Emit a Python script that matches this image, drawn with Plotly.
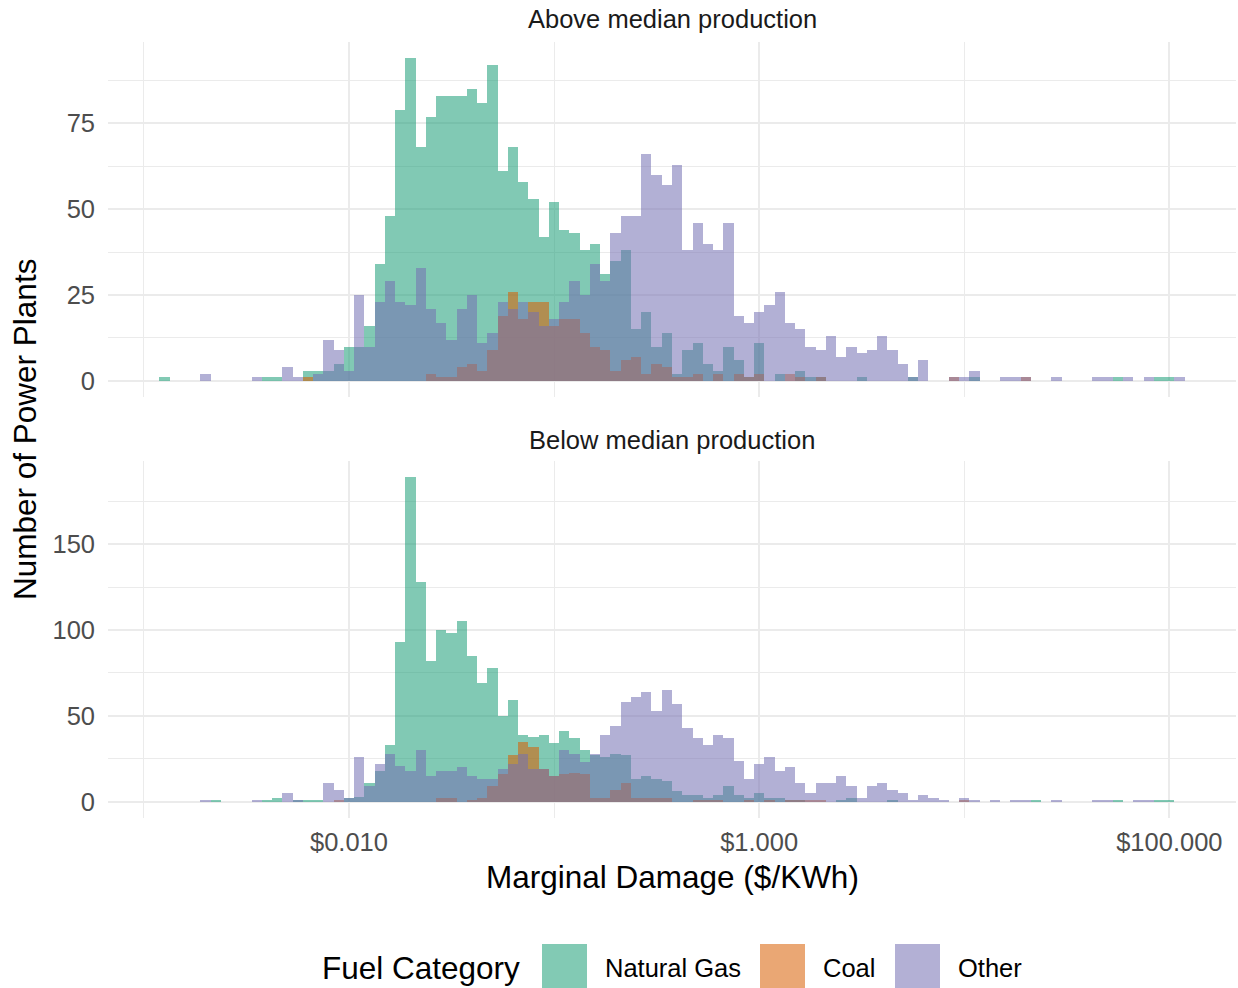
import numpy as np
import plotly.graph_objects as go

# ---------------- data (counts per histogram bin) ----------------
# bins are 0.05 wide in log10($/kWh); first bin centred at log10 = -2.90
BIN_WIDTH_LOG10 = 0.05
FIRST_BIN_CENTER_LOG10 = -2.90

# Above median production
ng_above = [1, 0, 0, 0, 0, 0, 0, 0, 0, 0,
            1, 1, 0, 0, 3, 3, 3, 5, 10, 10,
            16, 34, 48, 79, 94, 68, 77, 83, 83, 83,
            85, 81, 92, 61, 68, 58, 53, 42, 52, 44,
            43, 38, 40, 31, 35, 38, 15, 20, 10, 14,
            2, 9, 11, 5, 3, 10, 6, 1, 11, 0,
            2, 0, 3, 1, 1, 0, 0, 0, 1, 0,
            0, 0, 0, 1, 0, 0, 0, 0, 0, 1,
            0, 0, 0, 0, 0, 0, 0, 0, 0, 0,
            0, 0, 0, 1, 0, 0, 0, 1, 1, 0]
coal_above = [0, 0, 0, 0, 0, 0, 0, 0, 0, 0,
              0, 0, 0, 0, 1, 0, 0, 0, 0, 0,
              0, 0, 0, 0, 0, 0, 2, 1, 1, 4,
              5, 3, 9, 19, 26, 18, 23, 23, 16, 18,
              18, 14, 10, 9, 3, 6, 7, 2, 5, 4,
              1, 1, 2, 0, 2, 0, 2, 1, 2, 0,
              0, 2, 1, 0, 1, 0, 0, 0, 0, 0,
              0, 0, 0, 0, 0, 0, 0, 1, 0, 0,
              0, 0, 0, 0, 1, 0, 0, 0, 0, 0,
              0, 0, 0, 0, 0, 0, 0, 0, 0, 0]
other_above = [0, 0, 0, 0, 2, 0, 0, 0, 0, 1,
               0, 0, 4, 1, 0, 2, 12, 9, 3, 25,
               10, 23, 29, 23, 22, 33, 21, 17, 12, 21,
               25, 11, 14, 23, 21, 23, 20, 16, 18, 23,
               29, 25, 34, 29, 43, 48, 48, 66, 60, 57,
               63, 38, 46, 40, 38, 46, 19, 17, 20, 22,
               26, 17, 15, 10, 9, 13, 7, 10, 8, 9,
               13, 9, 5, 1, 6, 0, 0, 1, 1, 3,
               0, 0, 1, 1, 1, 0, 0, 1, 0, 0,
               0, 1, 1, 0, 1, 0, 1, 0, 0, 1]

# Below median production
ng_below = [0, 0, 0, 0, 0, 1, 0, 0, 0, 0,
            1, 2, 0, 1, 1, 1, 0, 0, 2, 3,
            11, 18, 33, 93, 189, 128, 82, 100, 98, 105,
            85, 69, 78, 50, 59, 39, 38, 39, 34, 41,
            37, 30, 27, 26, 28, 27, 13, 15, 13, 12,
            6, 4, 4, 2, 4, 9, 4, 2, 5, 2,
            2, 1, 1, 0, 0, 0, 1, 2, 0, 0,
            0, 1, 0, 0, 0, 0, 0, 0, 0, 0,
            0, 0, 0, 0, 0, 1, 0, 0, 0, 0,
            0, 0, 0, 1, 0, 0, 0, 1, 1, 0]
coal_below = [0, 0, 0, 0, 0, 0, 0, 0, 0, 0,
              0, 0, 0, 0, 0, 0, 0, 1, 0, 0,
              0, 0, 0, 0, 0, 0, 0, 2, 2, 0,
              1, 2, 9, 16, 27, 35, 32, 19, 15, 16,
              17, 16, 2, 2, 7, 11, 2, 2, 2, 2,
              0, 0, 1, 1, 1, 0, 0, 1, 0, 1,
              0, 1, 1, 1, 1, 0, 0, 0, 0, 0,
              0, 0, 0, 0, 0, 0, 0, 0, 1, 0,
              0, 0, 0, 0, 0, 0, 0, 0, 0, 0,
              0, 0, 0, 0, 0, 0, 0, 0, 0, 0]
other_below = [0, 0, 0, 0, 1, 0, 0, 0, 0, 1,
               0, 0, 5, 1, 0, 0, 11, 7, 2, 26,
               9, 22, 28, 21, 18, 30, 15, 18, 18, 20,
               15, 13, 13, 19, 22, 28, 19, 19, 15, 30,
               28, 23, 28, 39, 44, 58, 61, 64, 53, 65,
               57, 43, 37, 33, 39, 37, 24, 13, 22, 26,
               18, 20, 11, 5, 11, 11, 15, 9, 2, 9,
               11, 7, 5, 1, 4, 2, 1, 0, 2, 1,
               0, 1, 0, 1, 1, 0, 0, 1, 0, 0,
               0, 1, 1, 0, 0, 1, 1, 0, 0, 0]

categories = ["Natural Gas", "Coal", "Other"]
colors = {"Natural Gas": "#1B9E77", "Coal": "#D95F02", "Other": "#7570B3"}
x_tick_vals_log10 = [-2, 0, 2]
x_tick_labels = ["$0.010", "$1.000", "$100.000"]
panel_titles = ["Above median production", "Below median production"]

# ---------------- layout geometry ----------------
W, H = 1238, 988
L, R, T, B = 108, 2, 42, 170
PW = W - L - R
PH = H - T - B


def px_x(p):
    return (p - L) / PW


def px_y(p):
    return (H - B - p) / PH


FONT = "Liberation Sans, Arial, Helvetica, sans-serif"
ALPHA = 0.55
GRID = "#EBEBEB"

bin_centers = FIRST_BIN_CENTER_LOG10 + BIN_WIDTH_LOG10 * np.arange(len(ng_above))

fig = go.Figure()
panels = [
    ("x2", "y2", {"Natural Gas": ng_above, "Coal": coal_above, "Other": other_above}),
    ("x", "y", {"Natural Gas": ng_below, "Coal": coal_below, "Other": other_below}),
]
for xa, ya, data in panels:
    for cat in categories:
        counts = np.array(data[cat])
        mask = counts > 0
        fig.add_trace(go.Bar(
            x=bin_centers[mask], y=counts[mask], width=BIN_WIDTH_LOG10,
            name=cat, legendgroup=cat, showlegend=False,
            marker=dict(color=colors[cat], line=dict(width=0)),
            opacity=ALPHA, xaxis=xa, yaxis=ya,
            hovertemplate=cat + ": %{y}<extra></extra>",
        ))

x_common = dict(
    range=[-3.175, 2.325], tickvals=x_tick_vals_log10, ticktext=x_tick_labels,
    showgrid=True, gridcolor=GRID, gridwidth=2,
    minor=dict(dtick=1, tick0=0, showgrid=True, gridcolor=GRID, gridwidth=1),
    zeroline=False, showline=False, ticks="",
    tickfont=dict(family=FONT, size=25.5, color="#4D4D4D"),
)

fig.update_layout(
    width=W, height=H,
    margin=dict(l=L, r=R, t=T, b=B),
    paper_bgcolor="white", plot_bgcolor="white",
    barmode="overlay", bargap=0,
    showlegend=False,
    font=dict(family=FONT, color="black"),
    xaxis=dict(domain=[0, 1], anchor="y", ticklabelstandoff=6, **x_common),
    xaxis2=dict(domain=[0, 1], anchor="y2", matches="x", showticklabels=False, **x_common),
    yaxis=dict(
        domain=[0, px_y(461)], anchor="x", range=[-9.45, 198.45],
        tickvals=[0, 50, 100, 150],
        showgrid=True, gridcolor=GRID, gridwidth=2,
        minor=dict(dtick=25, tick0=0, showgrid=True, gridcolor=GRID, gridwidth=1),
        zeroline=False, showline=False, ticks="", ticklabelstandoff=12,
        tickfont=dict(family=FONT, size=25.5, color="#4D4D4D"),
    ),
    yaxis2=dict(
        domain=[px_y(397), 1], anchor="x2", range=[-4.7, 98.7],
        tickvals=[0, 25, 50, 75],
        showgrid=True, gridcolor=GRID, gridwidth=2,
        minor=dict(dtick=12.5, tick0=0, showgrid=True, gridcolor=GRID, gridwidth=1),
        zeroline=False, showline=False, ticks="", ticklabelstandoff=12,
        tickfont=dict(family=FONT, size=25.5, color="#4D4D4D"),
    ),
)

annotations = [
    dict(text=panel_titles[0], x=px_x(672), y=px_y(19), xref="paper", yref="paper",
         xanchor="center", yanchor="middle", showarrow=False, borderpad=0,
         font=dict(family=FONT, size=25.5, color="#1A1A1A")),
    dict(text=panel_titles[1], x=px_x(672), y=px_y(440), xref="paper", yref="paper",
         xanchor="center", yanchor="middle", showarrow=False, borderpad=0,
         font=dict(family=FONT, size=25.5, color="#1A1A1A")),
    dict(text="Marginal Damage ($/KWh)", x=px_x(672), y=px_y(877), xref="paper", yref="paper",
         xanchor="center", yanchor="middle", showarrow=False,
         font=dict(family=FONT, size=31.5, color="black")),
    dict(text="Number of Power Plants", x=px_x(25), y=px_y(430), xref="paper", yref="paper",
         xanchor="center", yanchor="middle", showarrow=False, textangle=-90,
         font=dict(family=FONT, size=31.5, color="black")),
    dict(text="Fuel Category", x=px_x(320), y=px_y(968), xref="paper", yref="paper",
         xanchor="left", yanchor="middle", showarrow=False,
         font=dict(family=FONT, size=31.5, color="black")),
]

shapes = []
legend_layout = [("Natural Gas", 542, 603), ("Coal", 760, 821), ("Other", 895, 956)]
for cat, sx, tx in legend_layout:
    shapes.append(dict(type="rect", xref="paper", yref="paper",
                       x0=px_x(sx), x1=px_x(sx + 45), y0=px_y(944), y1=px_y(989),
                       fillcolor=colors[cat], opacity=ALPHA, line=dict(width=0)))
    annotations.append(dict(text=cat, x=px_x(tx), y=px_y(968), xref="paper", yref="paper",
                            xanchor="left", yanchor="middle", showarrow=False,
                            font=dict(family=FONT, size=25.5, color="black")))

fig.update_layout(annotations=annotations, shapes=shapes)

# remove the default 8px page margin so the figure fills the window exactly
fig.write_html(
    "out.html",
    config={"displayModeBar": False},
    post_script="document.body.style.margin='0';document.body.style.overflow='hidden';",
)
